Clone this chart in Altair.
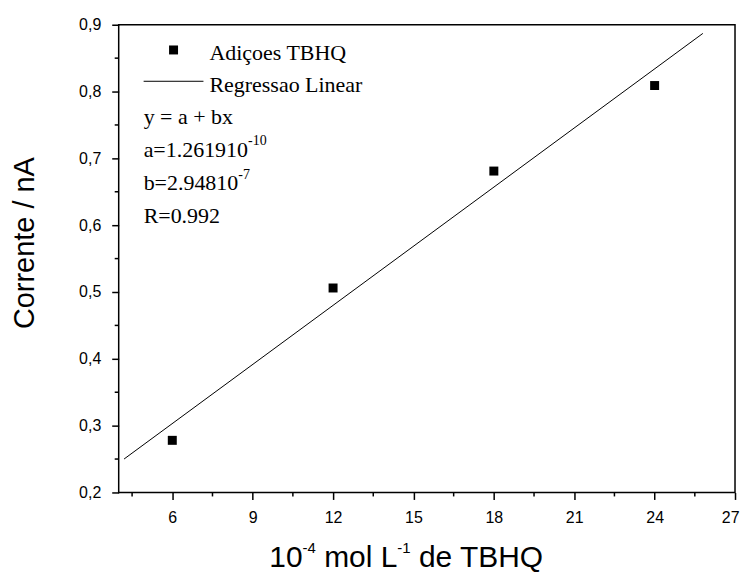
import altair as alt
import pandas as pd

# ---- data ----
conc = [6, 12, 18, 24]                    # 10^-4 mol L^-1 de TBHQ
corrente = [0.278, 0.506, 0.681, 0.809]   # nA
fit_x = [4.2, 25.8]                       # regression line ends
fit_y = [0.250, 0.887]

x_ticks = [6, 9, 12, 15, 18, 21, 24, 27]
y_ticks = [0.2, 0.3, 0.4, 0.5, 0.6, 0.7, 0.8, 0.9]
x_minor = [4.5, 7.5, 10.5, 13.5, 16.5, 19.5, 22.5, 25.5]
y_minor = [0.25, 0.35, 0.45, 0.55, 0.65, 0.75, 0.85]

legend_points = "Adiçoes TBHQ"
legend_line = "Regressao Linear"
eq_lines = ["y = a + bx", "a=1.261910", "b=2.94810", "R=0.992"]
eq_sups = ["-10", "-7"]
x_title_parts = ["10", "-4", "mol L", "-1", "de TBHQ"]
y_title = "Corrente / nA"

W, H = 618, 469
SANS = "Liberation Sans"
SERIF = "Liberation Serif"

xs = alt.Scale(domain=[4, 27], nice=False, zero=False)
ys = alt.Scale(domain=[0.2, 0.9], nice=False, zero=False)

pts_df = pd.DataFrame({"x": conc, "y": corrente})
fit_df = pd.DataFrame({"x": fit_x, "y": fit_y})

x_axis = alt.Axis(values=x_ticks, title=None, format="d", tickSize=7, tickWidth=1.5,
                  tickColor="black", labelFont=SANS, labelFontSize=16, labelColor="black",
                  labelPadding=10, labelFlush=True, labelFlushOffset=4,
                  labelOverlap=False, domain=False, grid=False)
y_axis = alt.Axis(values=y_ticks, title=y_title,
                  labelExpr="replace(format(datum.value, '.1f'), '.', ',')",
                  tickSize=7, tickWidth=1.5, tickColor="black", labelFont=SANS,
                  labelFontSize=16, labelColor="black", labelPadding=11,
                  labelOverlap=False, domain=False, grid=False,
                  titleFont=SANS, titleFontSize=29, titleFontWeight="normal",
                  titleColor="black", titleAngle=270, titleX=-85.5, titleY=218.5,
                  titleAlign="center", titleBaseline="alphabetic")

points = alt.Chart(pts_df).mark_square(size=81, color="black", opacity=1).encode(
    x=alt.X("x:Q", scale=xs, axis=x_axis),
    y=alt.Y("y:Q", scale=ys, axis=y_axis),
)

fit = alt.Chart(fit_df).mark_line(color="black", strokeWidth=1).encode(
    x=alt.X("x:Q", scale=xs, axis=x_axis),
    y=alt.Y("y:Q", scale=ys, axis=y_axis),
)

xminor_df = pd.DataFrame({"x": x_minor})
yminor_df = pd.DataFrame({"y": y_minor})
xminor = alt.Chart(xminor_df).mark_rule(color="black", strokeWidth=1.5).encode(
    x=alt.X("x:Q", scale=xs, axis=x_axis),
    y=alt.value(H), y2=alt.value(H + 4),
)
yminor = alt.Chart(yminor_df).mark_rule(color="black", strokeWidth=1.5).encode(
    y=alt.Y("y:Q", scale=ys, axis=y_axis),
    x=alt.value(-4), x2=alt.value(0),
)


def txt(s, x, y, size, font, align="left", baseline="alphabetic"):
    return alt.Chart(pd.DataFrame({"t": [s]})).mark_text(
        font=font, fontSize=size, color="black", align=align, baseline=baseline
    ).encode(text="t:N", x=alt.value(x), y=alt.value(y))


# legend box inside the plot
leg_marker = alt.Chart(pd.DataFrame({"t": [legend_points]})).mark_square(
    size=81, color="black", opacity=1).encode(x=alt.value(55), y=alt.value(25.3))
leg_line = alt.Chart(pd.DataFrame({"t": [legend_line]})).mark_rule(
    color="black", strokeWidth=1).encode(x=alt.value(25), x2=alt.value(85), y=alt.value(56.7))

FS = 22
layers_text = [
    txt(legend_points, 91, 35.3, FS, SERIF),
    txt(legend_line, 91, 67.7, FS, SERIF),
    txt(eq_lines[0], 25, 99.3, FS, SERIF),
    txt(eq_lines[1], 25, 132.7, FS, SERIF),
    txt(eq_sups[0], 25 + 4.758 * FS, 132.7 - 11.7, 14, SERIF),
    txt(eq_lines[2], 25, 166.0, FS, SERIF),
    txt(eq_sups[1], 25 + 4.314 * FS, 166.0 - 11.7, 14, SERIF),
    txt(eq_lines[3], 25, 199.3, FS, SERIF),
]

# x-axis title with superscripts
TF, SF = 30, 15
xb = H + 75
x0 = 151
p1 = x0 + 1.112 * TF
p2 = p1 + 0.889 * SF + 0.278 * TF
p3 = p2 + 2.445 * TF
p4 = p3 + 0.889 * SF + 0.278 * TF
xtitle = [
    txt(x_title_parts[0], x0, xb, TF, SANS),
    txt(x_title_parts[1], p1, xb - 14.5, SF, SANS),
    txt(x_title_parts[2], p2, xb, TF, SANS),
    txt(x_title_parts[3], p3, xb - 14.5, SF, SANS),
    txt(x_title_parts[4], p4, xb, TF, SANS),
]

chart = alt.layer(
    points, fit, xminor, yminor, leg_marker, leg_line, *layers_text, *xtitle
).properties(
    width=W, height=H,
    autosize=alt.AutoSizeParams(type="none"),
    padding={"left": 111, "top": 16, "right": 5, "bottom": 84},
    background="white",
).configure_view(
    stroke="black", strokeWidth=1.5
)

chart.save("out.html", embed_options={"renderer": "svg", "actions": False})
